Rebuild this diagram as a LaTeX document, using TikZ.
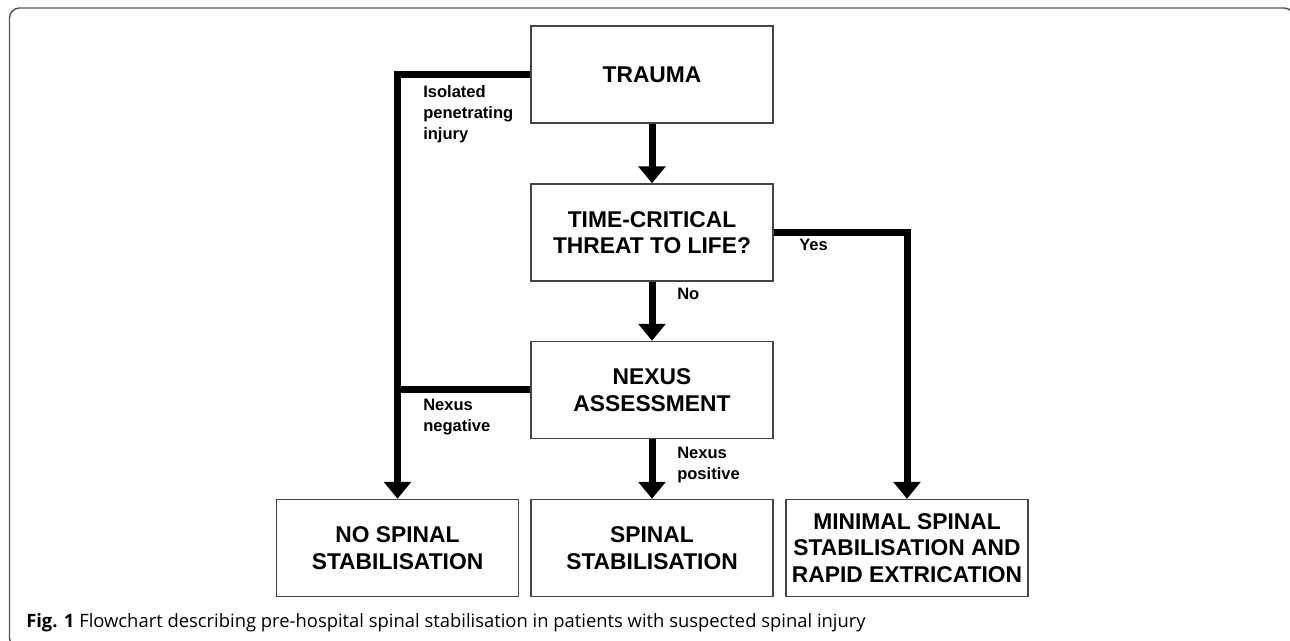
\documentclass[tikz,border=0pt]{standalone}
\usepackage{fontspec}
\setmainfont{Liberation Sans}
\newfontfamily\captionFont{Open Sans}
\usetikzlibrary{arrows.meta}
\definecolor{boxGrey}{HTML}{444444}
\definecolor{frameGrey}{HTML}{555555}
\newcommand{\flowBoxFont}{\bfseries\fontsize{17.1}{19.9}\selectfont}
\newcommand{\flowLabelFont}{\bfseries\fontsize{12.4}{15.75}\selectfont}

\begin{document}
\begin{tikzpicture}
[x=0.75pt,y=-0.75pt,%
  boxDecorate/.style={shape=rectangle,draw=boxGrey,line width=1.1pt,minimum width=181.5pt,minimum height=72.75pt,align=center,font=\flowBoxFont},%
  arrowDecorate/.style={-{Triangle[width=20pt,length=12.75pt]},line width=5.25pt},%
  lineDecorate/.style={line width=5.25pt},%
  labelDecorate/.style={anchor=north west,inner sep=0pt,align=left,font=\flowLabelFont}]
\useasboundingbox (0,0) rectangle (1290,641);
%% frame and caption
\draw[frameGrey,line width=1.1pt,rounded corners=7.5pt] (9.5,8) rectangle (1294,648);
\node (caption) at (26,628) [anchor=base west,inner sep=0pt,font=\captionFont\fontsize{13.8}{16}\selectfont]
  {\textbf{Fig. 1} Flowchart describing pre-hospital spinal stabilisation in patients with suspected spinal injury};
%% boxes
\foreach \nodename/\x/\y/\nodetext in {
  trauma/652/74.5/{TRAUMA},
  threat/652/232.5/{TIME-CRITICAL\\THREAT TO LIFE?},
  nexus/652/390/{NEXUS\\ASSESSMENT},
  nospinal/397.5/548/{NO SPINAL\\STABILISATION},
  spinal/652/548/{SPINAL\\STABILISATION},
  minimal/907/548/{MINIMAL SPINAL\\STABILISATION AND\\RAPID EXTRICATION}}
{
  \node (\nodename) at (\x,\y) [boxDecorate] {\nodetext};
}
%% arrows
\path
\foreach \startnode/\endnode in {trauma/threat, threat/nexus, nexus/spinal}
{
  (\startnode) edge[arrowDecorate] (\endnode)
};
\draw[arrowDecorate] (trauma.west) -| (nospinal.north);
\draw[arrowDecorate] (threat.east) -| (minimal.north);
\draw[lineDecorate] (nexus.west) -- (nexus.west -| nospinal.north);
%% labels
\node (isolated) at (423,85) [labelDecorate] {Isolated\\penetrating\\injury};
\node (yes) at (799,239) [labelDecorate] {Yes};
\node (no) at (677,288) [labelDecorate] {No};
\node (negative) at (423,399) [labelDecorate] {Nexus\\negative};
\node (positive) at (677,447) [labelDecorate] {Nexus\\positive};
\end{tikzpicture}
\end{document}
